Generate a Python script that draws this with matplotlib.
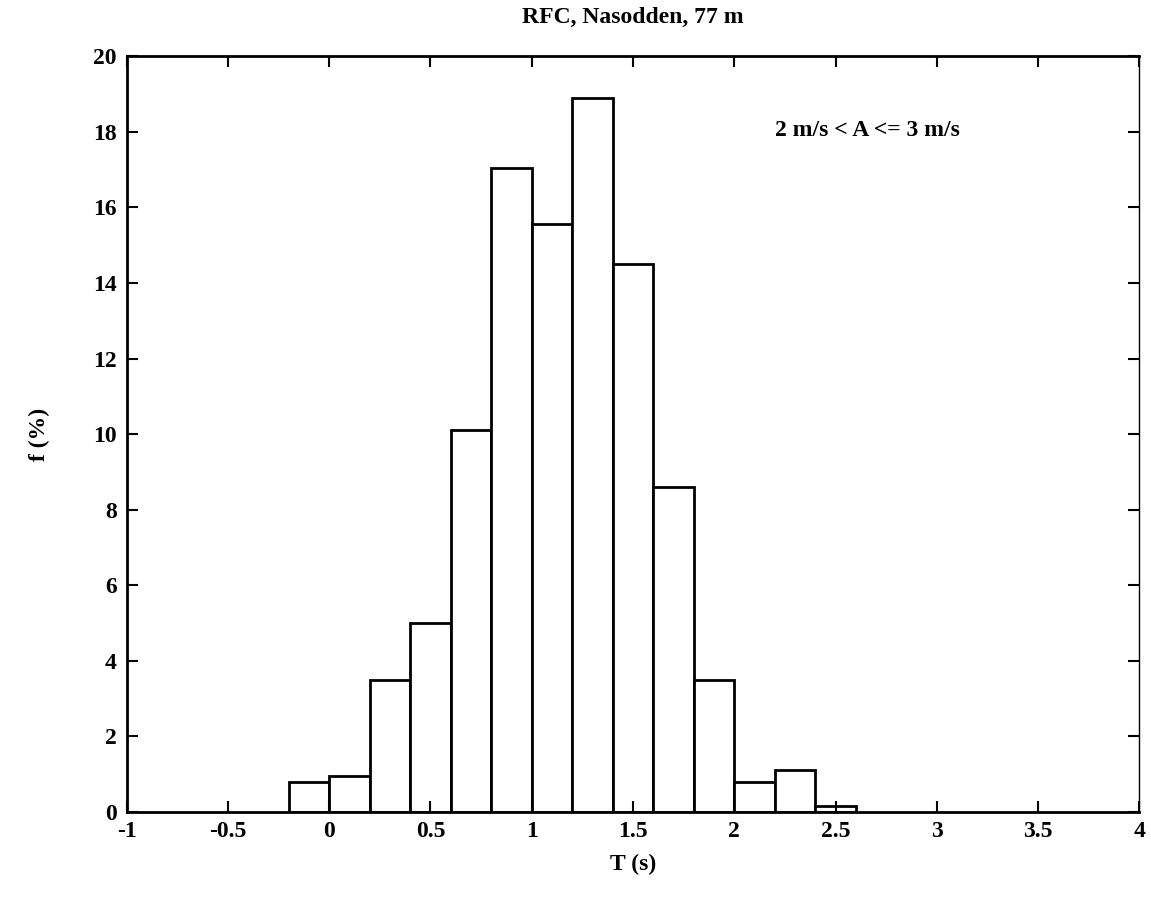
import matplotlib.pyplot as plt
import numpy as np

plt.rcParams['font.family'] = ['Liberation Serif', 'DejaVu Serif']
plt.rcParams['font.weight'] = 'bold'

# bin edges and frequencies (%)
edges = [-0.2, 0.0, 0.2, 0.4, 0.6, 0.8, 1.0, 1.2, 1.4, 1.6, 1.8, 2.0, 2.2, 2.4, 2.6]
freq = [0.8, 0.95, 3.5, 5.0, 10.1, 17.05, 15.55, 18.9, 14.5, 8.6, 3.5, 0.8, 1.1, 0.15]

xticks = [-1, -0.5, 0, 0.5, 1, 1.5, 2, 2.5, 3, 3.5, 4]
xticklabels = ['-1', '-0.5', '0', '0.5', '1', '1.5', '2', '2.5', '3', '3.5', '4']
yticks = [0, 2, 4, 6, 8, 10, 12, 14, 16, 18, 20]

fig = plt.figure(figsize=(11.51, 9.10), dpi=100)
ax = fig.add_axes([0.110, 0.108, 0.880, 0.830])

left = np.array(edges[:-1])
width = np.diff(edges)
ax.bar(left, freq, width=width, align='edge', facecolor='white',
       edgecolor='black', linewidth=2)

ax.set_xlim(-1, 4)
ax.set_ylim(0, 20)
ax.set_xticks(xticks)
ax.set_xticklabels(xticklabels)
ax.set_yticks(yticks)
ax.tick_params(direction='in', length=8, width=1.5, labelsize=17,
               top=True, right=True, pad=7)
for s in ax.spines.values():
    s.set_linewidth(2)
ax.spines['right'].set_linewidth(1)

ax.set_title('RFC, Nasodden, 77 m', fontsize=17, fontweight='bold', pad=24)
ax.set_xlabel('T (s)', fontsize=17, fontweight='bold', labelpad=8)
ax.set_ylabel('f (%)', fontsize=17, fontweight='bold', labelpad=31)
ax.text(2.2, 18.05, '2 m/s < A <= 3 m/s', fontsize=17, fontweight='bold',
        va='center', ha='left')

fig.savefig('out.png', dpi=100)
